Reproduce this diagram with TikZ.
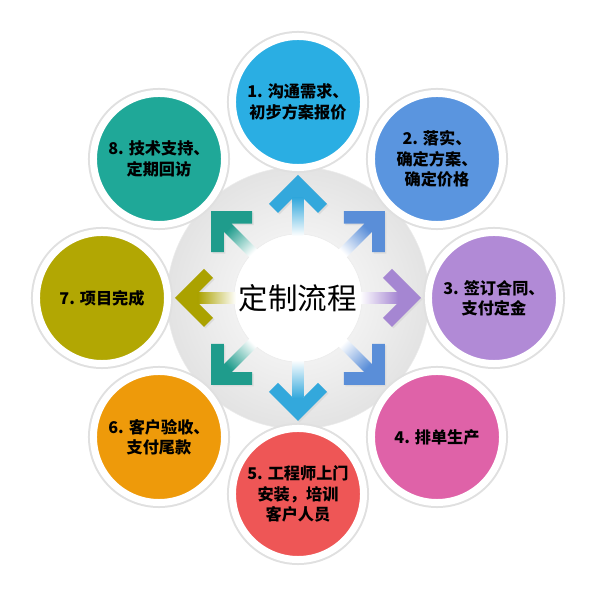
\documentclass[tikz,border=0pt]{standalone}
\usepackage{fontspec}
\newfontfamily\cjk{Noto Sans CJK SC}
\usetikzlibrary{calc}
\definecolor{stepone}{HTML}{2AAEE3}
\definecolor{steptwo}{HTML}{5A95DF}
\definecolor{stepthree}{HTML}{B18AD6}
\definecolor{stepfour}{HTML}{DF62A8}
\definecolor{stepfive}{HTML}{EE5656}
\definecolor{stepsix}{HTML}{EE9A0A}
\definecolor{stepseven}{HTML}{B2A703}
\definecolor{stepeight}{HTML}{1FA898}
\definecolor{arrcyan}{HTML}{33A8DC}
\definecolor{arrblue}{HTML}{5A8ED8}
\definecolor{arrpurple}{HTML}{A586D2}
\definecolor{arrteal}{HTML}{1F9C8C}
\definecolor{arrolive}{HTML}{ABA200}

\begin{document}
\begin{tikzpicture}[x=0.025cm, y=0.025cm,
	stepcirc/.style={circle, minimum size=3.275cm, inner sep=0pt, draw=white, line width=0.175cm, preaction={draw=black!12, line width=0.275cm}, align=center, font=\cjk\bfseries\fontsize{11.5pt}{14.5pt}\selectfont},
	maintitle/.style={font=\cjk\fontsize{21pt}{24pt}\selectfont}]
	\useasboundingbox[fill=white] (-298,-299) rectangle (302,298);
	% grey disc in the middle
	\shade[inner color=white, outer color=black!11, draw=black!8] (0,0) circle (131);
	\fill[white, draw=black!8] (0,0) circle (64);
	% arrows
	\foreach \a/\c [evaluate=\a as \sa using \a-90] in {90/arrcyan, 45/arrblue, 0/arrpurple, -45/arrblue, -90/arrcyan, -135/arrteal, 180/arrolive, 135/arrteal}{
		\fill[black!14, shift={(1.5,-1.5)}, rotate=\a] (123,0) -- (94,29) -- (85,20) -- (99.5,5.5) -- (99.5,-5.5) -- (85,-20) -- (94,-29) -- cycle;
		\fill[\c, rotate=\a] (123,0) -- (94,29) -- (85,20) -- (99.5,5.5) -- (99.5,-5.5) -- (85,-20) -- (94,-29) -- cycle;
		\shade[top color=\c, bottom color=white, shading angle=\sa] ($(\a:100)+(\a+90:5.5)$) -- ($(\a:100)+(\a-90:5.5)$) -- ($(\a:62)+(\a-90:5.5)$) -- ($(\a:62)+(\a+90:5.5)$) -- cycle;
	}
	\node[maintitle](title) at (0,0){定制流程};
	% the eight steps
	\node[stepcirc, fill=stepone](s1) at (0,196){1. 沟通需求、\\初步方案报价};
	\node[stepcirc, fill=steptwo](s2) at (139,139){2. 落实、\\确定方案、\\确定价格};
	\node[stepcirc, fill=stepthree](s3) at (196,0){3. 签订合同、\\支付定金};
	\node[stepcirc, fill=stepfour](s4) at (139,-139){4. 排单生产};
	\node[stepcirc, fill=stepfive](s5) at (0,-196){5. 工程师上门\\安装，培训\\客户人员};
	\node[stepcirc, fill=stepsix](s6) at (-139,-139){6. 客户验收、\\支付尾款};
	\node[stepcirc, fill=stepseven](s7) at (-196,0){7. 项目完成};
	\node[stepcirc, fill=stepeight](s8) at (-139,139){8. 技术支持、\\定期回访};
\end{tikzpicture}
\end{document}
